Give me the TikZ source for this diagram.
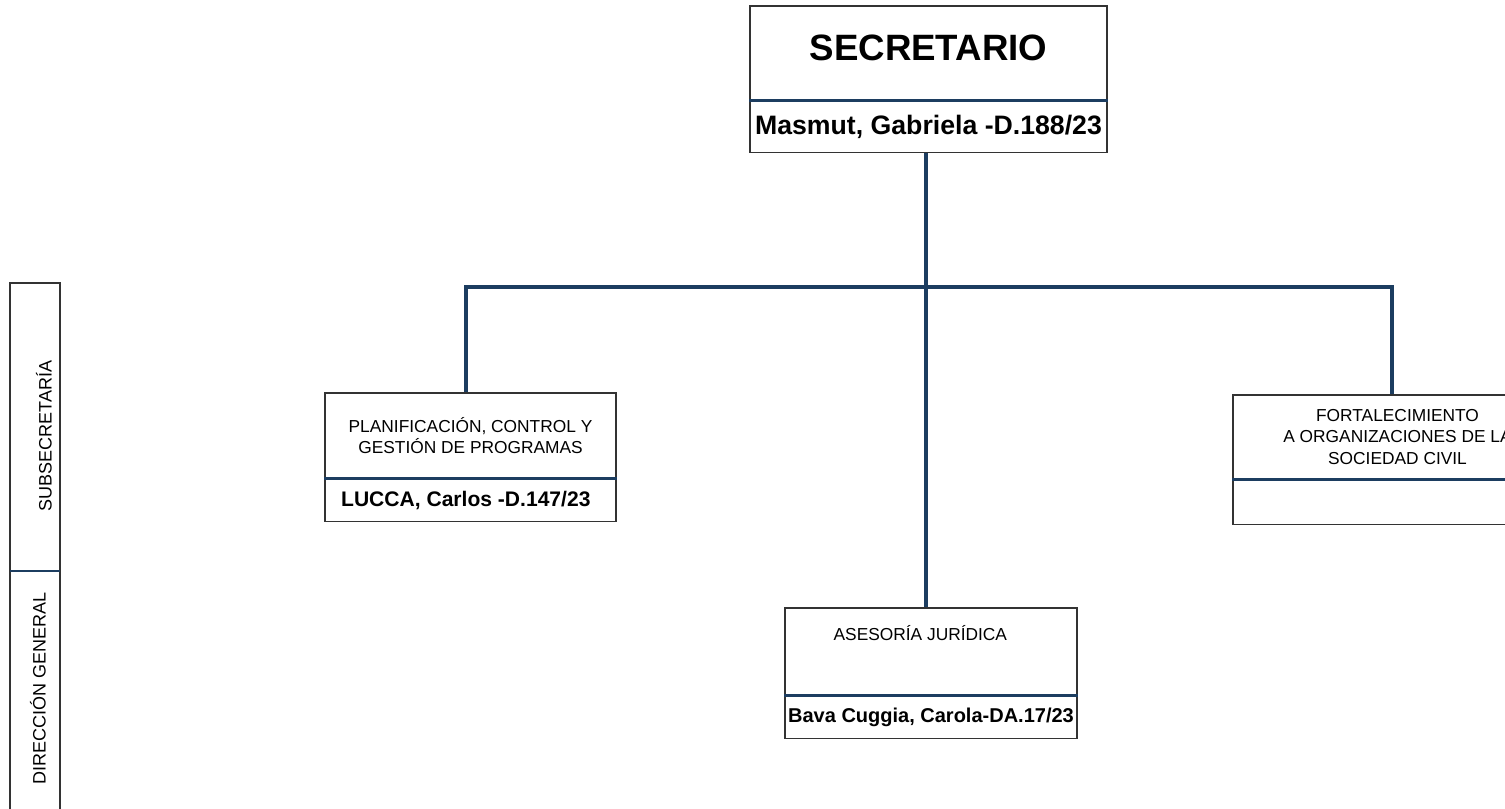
\documentclass[tikz,border=0pt]{standalone}
\usepackage{fontspec}
\setmainfont{Liberation Sans}
\usetikzlibrary{positioning}
\definecolor{linkblue}{RGB}{28,61,96}
\definecolor{framegray}{RGB}{51,51,51}
\tikzset{
  unitbox/.style={draw=framegray,line width=0.9pt,inner sep=1pt,align=center,font=\fontsize{13}{16}\selectfont},
  namebox/.style={draw=framegray,line width=0.9pt,inner sep=1pt,font=\fontsize{15.5}{18}\selectfont\bfseries},
  link/.style={linkblue,line width=2.7pt},
  divider/.style={linkblue,line width=1.7pt},
  tag/.style={rotate=90,font=\fontsize{13.5}{16}\selectfont}
}

\begin{document}
\begin{tikzpicture}[x=0.75pt,y=-0.75pt]
  \useasboundingbox (0,0) rectangle (1505,809);
  \clip (0,0) rectangle (1505,809);
  % side legend
  \draw[framegray,line width=0.9pt] (10,809) -- (10,283) -- (60,283) -- (60,809);
  \draw[divider] (10,571) -- (60,571);
  \node[tag] (subsec) at (44,436) {SUBSECRETARÍA};
  \node[tag] (dirgen) at (38,688) {DIRECCIÓN GENERAL};

  % secretario
  \node[unitbox,minimum width=267.75pt,minimum height=70.5pt,font=\fontsize{27.5}{33}\selectfont\bfseries,text depth=7.5pt] (sec) at (928.5,53) {SECRETARIO};
  \node[namebox,minimum width=267.75pt,minimum height=38.25pt,below=0pt of sec,font=\fontsize{20}{24}\selectfont\bfseries] (secname) {Masmut, Gabriela -D.188/23};

  % planificacion
  \node[unitbox,minimum width=218.25pt,minimum height=63.75pt] (plan) at (470.5,435.5) {PLANIFICACIÓN, CONTROL Y\\GESTIÓN DE PROGRAMAS};
  \node[namebox,minimum width=218.25pt,minimum height=31.5pt,below=0pt of plan,font=\fontsize{15.8}{18}\selectfont\bfseries] (planname) {LUCCA, Carlos -D.147/23\hspace*{7pt}};

  % fortalecimiento
  \node[unitbox,minimum width=246.75pt,minimum height=63pt] (fort) at (1397.5,437) {FORTALECIMIENTO\\A ORGANIZACIONES DE LA\\SOCIEDAD CIVIL};
  \node[namebox,minimum width=246.75pt,minimum height=33pt,below=0pt of fort] (fortname) {};

  % asesoria
  \node[unitbox,minimum width=219pt,minimum height=65.25pt,text depth=28pt] (aseso) at (931,651.5) {ASESORÍA JURÍDICA\hspace*{16pt}};
  \node[namebox,minimum width=219pt,minimum height=31.5pt,below=0pt of aseso,font=\fontsize{15}{18}\selectfont\bfseries] (asesoname) {Bava Cuggia, Carola-DA.17/23};

  % dividers
  \draw[divider] (sec.south west) -- (sec.south east);
  \draw[divider] (plan.south west) -- (plan.south east);
  \draw[divider] (fort.south west) -- (fort.south east);
  \draw[divider] (aseso.south west) -- (aseso.south east);

  % connectors
  \coordinate (bus) at (926,287);
  \draw[link] (secname.south -| bus) -- (aseso.north -| bus);
  \draw[link] ([xshift=-3.4pt]plan.north) |- (bus) -| ([xshift=-4pt]fort.north);
\end{tikzpicture}
\end{document}
